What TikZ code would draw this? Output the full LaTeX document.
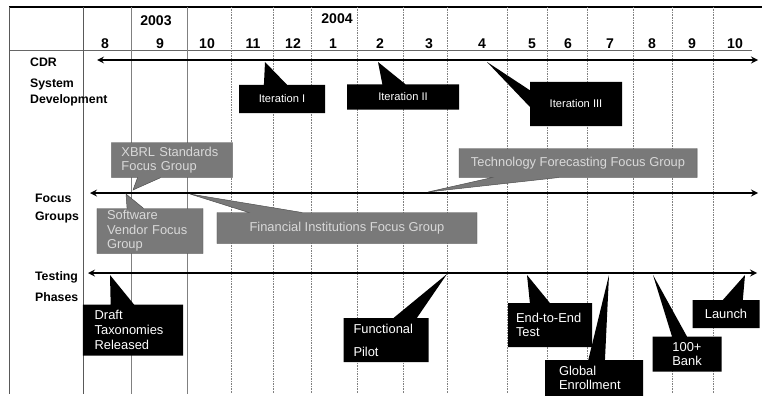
\documentclass[tikz,border=0pt]{standalone}
\usepackage{fontspec}
\setmainfont{Liberation Sans}
\usetikzlibrary{shapes.callouts}

\begin{document}
\begin{tikzpicture}[x=0.03cm,y=-0.03cm,>=stealth,
    black box/.style={rectangle callout,fill=black,text=white,font=\fontsize{11}{12.5}\selectfont,inner ysep=0pt,callout pointer width=0.7cm,execute at begin node={\hyphenpenalty=10000}},
    gray box/.style={rectangle callout,fill=gray!95!black,draw=gray!60!black,text=white!85!black,font=\fontsize{11}{12.5}\selectfont,inner ysep=0pt,callout pointer width=0.7cm,execute at begin node={\hyphenpenalty=10000}},
    row label/.style={anchor=west,font=\bfseries\fontsize{10.5}{12}\selectfont},
    month/.style={font=\bfseries\fontsize{12}{14}\selectfont},
    time line/.style={<->,line width=1.6pt}]
  \useasboundingbox (0,0) rectangle (762,396);
  % grid
  \draw[line width=1.5pt] (9,7) -- (762,7);
  \draw[gray!80!black] (9,50) -- (752,50);
  \foreach \x in {9,83} \draw[gray!70!black,line width=0.8pt] (\x,7) -- (\x,394);
  \foreach \x in {131,187} \draw[gray,line width=0.8pt] (\x,7) -- (\x,394);
  \foreach \x in {231,273,311,357,403,447,507,547,587,633,672,713}
    \draw[gray,densely dotted] (\x,7) -- (\x,394);

  % header
  \node[month] (y2003) at (156,21) {2003};
  \node[month] (y2004) at (337,19) {2004};
  \foreach \x/\m [count=\i] in {105/8,160/9,207/10,253/11,293/12,333/1,380/2,429/3,482/4,532/5,568/6,610/7,652/8,692/9,735/10}
    \node[month] (m\i) at (\x,44) {\m};

  % row labels
  \node[row label] (cdr) at (26,62) {CDR};
  \node[row label] (sys) at (26,84) {System};
  \node[row label] (dev) at (26,100) {Development};
  \node[row label] (foc) at (31,198) {Focus};
  \node[row label] (grp) at (31,217) {Groups};
  \node[row label] (tst) at (31,277) {Testing};
  \node[row label] (pha) at (31,297) {Phases};

  % time lines
  \coordinate (cdr west) at (97,60);
  \coordinate (cdr east) at (758,60);
  \coordinate (fg west) at (90,193);
  \coordinate (fg east) at (758,193);
  \coordinate (tp west) at (88,273);
  \coordinate (tp east) at (757,273);
  \draw[time line] (cdr west) -- (cdr east);
  \draw[time line] (fg west) -- (fg east);
  \draw[time line] (tp west) -- (tp east);

  % pointer tips
  \coordinate (it1 tip) at (265,62);
  \coordinate (it2 tip) at (378,62);
  \coordinate (it3 tip) at (487,62);
  \coordinate (xbrl tip) at (133,190);
  \coordinate (svfg tip) at (126,194);
  \coordinate (fifg tip) at (190,194);
  \coordinate (tffg tip) at (428,192);
  \coordinate (draft tip) at (110,275);
  \coordinate (func tip) at (447,274);
  \coordinate (e2e tip) at (527,275);
  \coordinate (glob tip) at (609,275);
  \coordinate (bank tip) at (653,275);
  \coordinate (lnch tip) at (745,275);

  % CDR system development
  \node[black box,font=\fontsize{9.5}{11}\selectfont,minimum width=2.58cm,minimum height=0.84cm,callout absolute pointer={(it1 tip)}] (it1) at (282,99) {Iteration I};
  \node[black box,font=\fontsize{9.5}{11}\selectfont,minimum width=3.36cm,minimum height=0.75cm,callout absolute pointer={(it2 tip)}] (it2) at (403,97) {Iteration II};
  \node[black box,font=\fontsize{9.5}{11}\selectfont,minimum width=2.76cm,minimum height=1.32cm,callout pointer width=0.5cm,callout absolute pointer={(it3 tip)}] (it3) at (576,104) {Iteration III};

  % focus groups
  \node[gray box,align=left,text width=3.03cm,inner xsep=0.3cm,minimum height=1.05cm,callout absolute pointer={(xbrl tip)}] (xbrl) at (172,160) {XBRL Standards\\Focus Group};
  \node[gray box,align=left,text width=2.58cm,inner xsep=0.3cm,minimum height=1.35cm,callout pointer width=0.5cm,callout absolute pointer={(svfg tip)}] (svfg) at (150,231) {Software\\Vendor Focus\\Group};
  \node[gray box,minimum width=7.8cm,minimum height=0.93cm,callout pointer width=1.6cm,callout absolute pointer={(fifg tip)}] (fifg) at (347,228) {Financial Institutions Focus Group};
  \node[gray box,minimum width=7.14cm,minimum height=0.87cm,callout pointer width=2cm,callout absolute pointer={(tffg tip)}] (tffg) at (578,163) {Technology Forecasting Focus Group};

  % testing phases
  \node[black box,align=left,text width=2.3cm,inner xsep=0.35cm,minimum height=1.53cm,callout absolute pointer={(draft tip)}] (draft) at (133,330) {Draft\\Taxonomies\\Released};
  \node[black box,align=left,text width=1.95cm,inner xsep=0.3cm,minimum height=1.32cm,callout absolute pointer={(func tip)}] (func) at (386,340) {Functional\\[7pt]Pilot};
  \node[black box,align=left,text width=2.04cm,inner xsep=0.24cm,minimum height=1.32cm,callout pointer width=0.6cm,callout absolute pointer={(e2e tip)}] (e2e) at (550,325) {End-to-End\\Test};
  \node[black box,align=left,text width=2.1cm,inner xsep=0.42cm,minimum height=1.08cm,callout pointer width=0.5cm,callout absolute pointer={(glob tip)}] (glob) at (594,378) {Global\\Enrollment};
  \node[black box,align=center,minimum width=2.07cm,minimum height=1.05cm,callout pointer width=0.45cm,callout absolute pointer={(bank tip)}] (bank) at (687,354) {100+\\Bank};
  \node[black box,minimum width=2.01cm,minimum height=0.84cm,callout pointer width=0.6cm,callout absolute pointer={(lnch tip)}] (lnch) at (726,314) {Launch};
\end{tikzpicture}
\end{document}
